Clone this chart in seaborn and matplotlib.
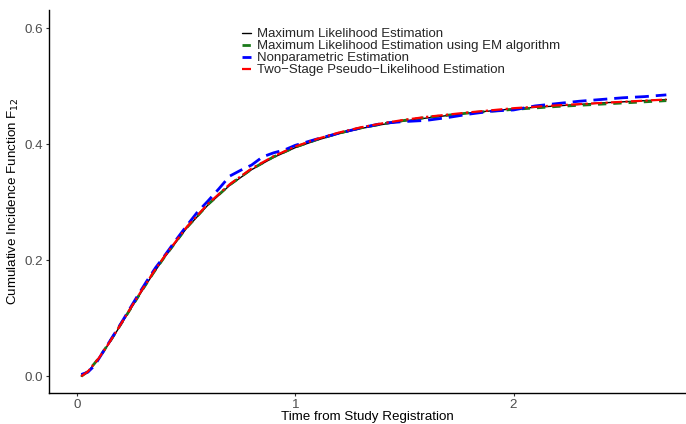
import numpy as np
import pandas as pd
import matplotlib
matplotlib.use("Agg")
import matplotlib.pyplot as plt
import seaborn as sns

# Smooth parametric estimates
time_grid = [0.02, 0.05, 0.1, 0.15, 0.2, 0.25, 0.3, 0.35, 0.4, 0.5, 0.6, 0.7, 0.8, 0.9, 1.0,
             1.1, 1.2, 1.3, 1.4, 1.5, 1.6, 1.8, 2.0, 2.2, 2.4, 2.6, 2.7]
mle_cif = [0.0, 0.008, 0.03, 0.058, 0.088, 0.118, 0.148, 0.177, 0.204, 0.254, 0.295, 0.329,
           0.356, 0.377, 0.394, 0.407, 0.418, 0.427, 0.434, 0.440, 0.445, 0.454, 0.461,
           0.466, 0.471, 0.475, 0.477]
em_cif = [0.0, 0.008, 0.031, 0.059, 0.089, 0.119, 0.149, 0.178, 0.205, 0.255, 0.296, 0.330,
          0.357, 0.378, 0.395, 0.408, 0.419, 0.428, 0.435, 0.441, 0.446, 0.454, 0.460,
          0.465, 0.469, 0.473, 0.475]
ts_cif = [0.0, 0.008, 0.031, 0.059, 0.089, 0.12, 0.15, 0.179, 0.206, 0.256, 0.297, 0.331,
          0.358, 0.379, 0.396, 0.409, 0.42, 0.429, 0.436, 0.442, 0.447, 0.455, 0.462,
          0.467, 0.471, 0.475, 0.477]

# Nonparametric estimate
np_time = [0.02, 0.05, 0.08, 0.12, 0.16, 0.2, 0.24, 0.28, 0.32, 0.36, 0.4, 0.45, 0.5, 0.55,
           0.6, 0.65, 0.7, 0.75, 0.8, 0.85, 0.9, 0.95, 1.0, 1.1, 1.2, 1.3, 1.4, 1.5, 1.6,
           1.7, 1.8, 1.9, 2.0, 2.1, 2.2, 2.3, 2.4, 2.5, 2.6, 2.7]
np_cif = [0.003, 0.007, 0.018, 0.042, 0.066, 0.09, 0.115, 0.14, 0.164, 0.187, 0.207, 0.233,
          0.258, 0.282, 0.302, 0.323, 0.345, 0.355, 0.364, 0.378, 0.385, 0.39, 0.398,
          0.409, 0.419, 0.428, 0.436, 0.439, 0.441, 0.446, 0.452, 0.457, 0.459, 0.466,
          0.47, 0.474, 0.477, 0.48, 0.482, 0.485]

sns.set_style("ticks")
plt.rcParams["font.family"] = ["Liberation Sans", "DejaVu Sans"]

fig = plt.figure(figsize=(6.86, 4.24), dpi=100)
ax = fig.add_axes([0.0714, 0.073, 0.9286, 0.903])

sns.lineplot(x=time_grid, y=mle_cif, ax=ax, color="black", linewidth=1.0,
             label="Maximum Likelihood Estimation")
sns.lineplot(x=time_grid, y=em_cif, ax=ax, color="#1a7a1a", linewidth=2.0,
             linestyle=(0, (3, 2.5)), label="Maximum Likelihood Estimation using EM algorithm")
sns.lineplot(x=np_time, y=np_cif, ax=ax, color="#0000ff", linewidth=2.0,
             linestyle=(0, (5, 2.5)), label="Nonparametric Estimation")
sns.lineplot(x=time_grid, y=ts_cif, ax=ax, color="#ff0000", linewidth=1.6,
             linestyle=(0, (5, 1.5, 1, 1.5)), label="Two\u2212Stage Pseudo\u2212Likelihood Estimation")

ax.set_xlim(-0.128, 2.79)
ax.set_ylim(-0.029, 0.631)
ax.set_xticks([0, 1, 2])
ax.set_xticklabels(["0", "1", "2"])
ax.set_yticks([0.0, 0.2, 0.4, 0.6])
ax.set_yticklabels(["0.0", "0.2", "0.4", "0.6"])
ax.tick_params(colors="#4d4d4d", labelsize=9.6, length=2.5, width=0.8, pad=1.5)
ax.tick_params(axis="both", color="#333333")
for s in ["left", "bottom"]:
    ax.spines[s].set_color("black")
    ax.spines[s].set_linewidth(1.0)
sns.despine(ax=ax)

ax.set_xlabel("Time from Study Registration", fontsize=9.6, color="black", labelpad=0)
ax.set_ylabel("Cumulative Incidence Function F$_{12}$", fontsize=9.6, color="black", labelpad=3)

leg = ax.legend(loc="upper left", bbox_to_anchor=(0.294, 0.967), frameon=False,
                fontsize=9.5, handlelength=0.7, handletextpad=0.5, labelspacing=-0.02,
                borderaxespad=0)

fig.savefig("out.png", dpi=100)
